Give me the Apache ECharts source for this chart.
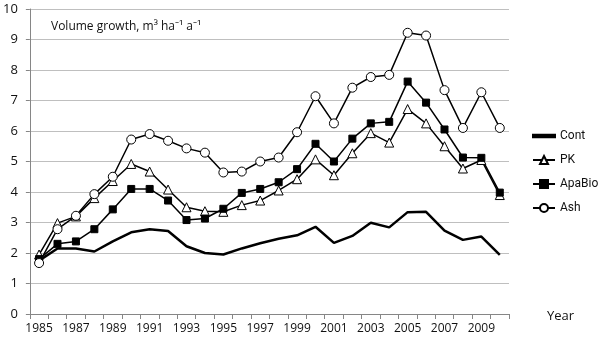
<!DOCTYPE html>
<html>
<head>
<meta charset="utf-8">
<script src="https://cdn.jsdelivr.net/npm/echarts@6/dist/echarts.min.js"></script>
<style>html,body{margin:0;padding:0;background:#fff}#c{width:600px;height:342px}</style>
</head>
<body>
<div id="c"></div>
<script>
var years = ['1985','1986','1987','1988','1989','1990','1991','1992','1993','1994','1995','1996','1997','1998','1999','2000','2001','2002','2003','2004','2005','2006','2007','2008','2009','2010'];
var cont   = [1.75,2.15,2.15,2.05,2.38,2.68,2.78,2.72,2.22,2.0,1.95,2.15,2.32,2.47,2.58,2.86,2.33,2.56,2.99,2.84,3.34,3.35,2.73,2.43,2.54,1.94];
var pk     = [1.95,2.98,3.2,3.8,4.36,4.92,4.67,4.08,3.5,3.37,3.35,3.57,3.72,4.05,4.42,5.07,4.55,5.27,5.93,5.62,6.72,6.25,5.5,4.77,5.05,3.9];
var apaBio = [1.8,2.3,2.38,2.78,3.43,4.1,4.1,3.72,3.08,3.13,3.45,3.97,4.1,4.32,4.75,5.58,5.0,5.75,6.25,6.3,7.62,6.93,6.05,5.13,5.12,3.98];
var ash    = [1.67,2.78,3.22,3.93,4.5,5.72,5.9,5.68,5.43,5.29,4.64,4.67,5.0,5.13,5.96,7.14,6.25,7.42,7.77,7.84,9.22,9.13,7.34,6.1,7.27,6.1];
var yTicks = [0,1,2,3,4,5,6,7,8,9,10];

var FONT = '"Open Sans", "Noto Sans", sans-serif';
var chart = echarts.init(document.getElementById('c'), null, {renderer: 'canvas'});
function s(name, data, symbol, size, fill, width) {
  return {
    name: name, type: 'line', data: data,
    symbol: symbol, symbolSize: size, showSymbol: symbol !== 'none',
    lineStyle: {color: '#000', width: width},
    itemStyle: {color: fill, borderColor: '#000', borderWidth: 1},
    animation: false
  };
}
chart.setOption({
  animation: false,
  textStyle: {fontFamily: FONT},
  title: {
    text: 'Volume growth, m³ ha⁻¹ a⁻¹',
    left: 46, top: 16,
    textStyle: {fontFamily: FONT, fontSize: 12, fontWeight: 'normal', color: '#111'}
  },
  grid: {left: 29, right: 91, top: 9, bottom: 28, containLabel: false},
  legend: {
    orient: 'vertical', left: 532, top: 128, padding: 0, itemGap: 8, itemWidth: 22, itemHeight: 10,
    textStyle: {fontFamily: 'Roboto, sans-serif', fontSize: 12, color: '#111', lineHeight: 16},
    data: [
      {name: 'Cont', icon: 'path://M0,0L22,0L22,2.5L0,2.5Z'},
      'PK', 'ApaBio', 'Ash'
    ]
  },
  graphic: [{type: 'text', left: 547, top: 310, style: {text: 'Year', font: '13px ' + FONT, fill: '#111'}}],
  xAxis: {
    type: 'category', data: years, boundaryGap: true,
    axisLine: {lineStyle: {color: '#868686', width: 1}},
    axisTick: {show: true, length: 5, lineStyle: {color: '#868686'}, interval: 0},
    axisLabel: {interval: 1, fontSize: 12, color: '#111', margin: 9, fontFamily: FONT},
    splitLine: {show: false}
  },
  yAxis: {
    type: 'value', min: yTicks[0], max: yTicks[yTicks.length-1], interval: 1,
    axisLine: {show: true, lineStyle: {color: '#868686', width: 1}},
    axisTick: {show: true, length: 4, lineStyle: {color: '#868686'}},
    axisLabel: {fontSize: 13, color: '#111', margin: 12, fontFamily: FONT},
    splitLine: {show: true, lineStyle: {color: '#bfbfbf', width: 1}}
  },
  series: [
    s('Cont', cont, 'none', 0, '#000', 2.5),
    s('PK', pk, 'triangle', 9, '#fff', 1.5),
    s('ApaBio', apaBio, 'rect', 7, '#000', 1.5),
    s('Ash', ash, 'circle', 9, '#fff', 1.5)
  ]
});
</script>
</body>
</html>
